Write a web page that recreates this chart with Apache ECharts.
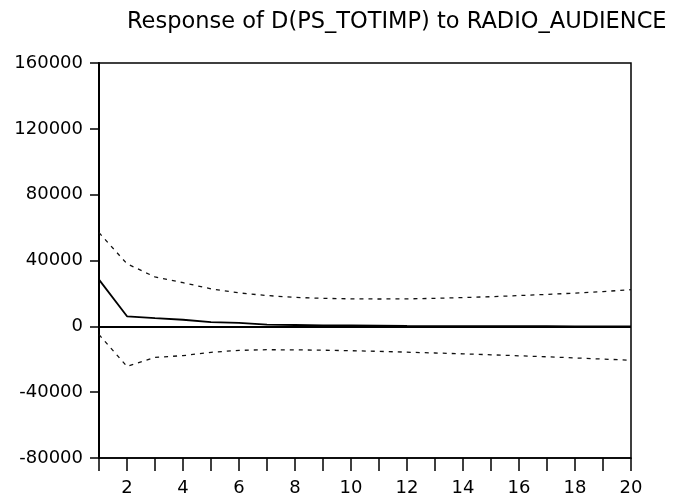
<!DOCTYPE html>
<html>
<head>
<meta charset="utf-8">
<script src="https://cdn.jsdelivr.net/npm/echarts@6/dist/echarts.min.js"></script>
<style>
  html, body { margin: 0; padding: 0; background: #fff; }
  #chart { width: 674px; height: 498px; }
</style>
</head>
<body>
<div id="chart"></div>
<script>
const periods = [1, 2, 3, 4, 5, 6, 7, 8, 9, 10, 11, 12, 13, 14, 15, 16, 17, 18, 19, 20]
// impulse response and +/- 2 s.e. bands
const response = [28400, 6100, 5000, 4000, 2500, 2100, 1000, 800, 600, 500, 400, 200, 150, 100, 80, 60, 40, 30, 20, 15]
const upper = [56900, 38000, 30000, 26500, 22800, 20300, 18700, 17600, 17000, 16700, 16600, 16700, 17000, 17500, 18000, 18700, 19400, 20200, 21100, 22300]
const lower = [-5000, -24400, -18900, -17800, -15800, -14600, -14200, -14300, -14500, -14800, -15200, -15700, -16200, -16700, -17300, -17900, -18500, -19200, -19900, -20600]
const yTicks = [-80000, -40000, 0, 40000, 80000, 120000, 160000]

const font = 'DejaVu Sans'
const pair = (arr) => periods.map((p, i) => [p, arr[i]])

const myChart = echarts.init(document.getElementById('chart'), null, { renderer: 'canvas' })

const option = {
  backgroundColor: '#fff',
  animation: false,
  title: {
    text: 'Response of D(PS_TOTIMP) to RADIO_AUDIENCE',
    left: 122,
    top: 6,
    textStyle: { fontFamily: font, fontSize: 22.5, fontWeight: 'normal', color: '#000' }
  },
  grid: {
    left: 99,
    right: 43,
    top: 63,
    bottom: 40,
    show: true,
    borderColor: '#000',
    borderWidth: 1.5,
    backgroundColor: 'transparent'
  },
  xAxis: {
    type: 'value',
    min: periods[0],
    max: periods[periods.length - 1],
    interval: 1,
    axisLine: { show: true, onZero: false, lineStyle: { color: '#000', width: 1.5 } },
    axisTick: { show: true, length: 13, lineStyle: { color: '#000', width: 1.5 } },
    axisLabel: {
      margin: 21,
      color: '#000',
      fontFamily: font,
      fontSize: 18,
      formatter: (v) => (v % 2 === 0 ? String(v) : '')
    },
    splitLine: { show: false }
  },
  yAxis: {
    type: 'value',
    min: yTicks[0],
    max: yTicks[yTicks.length - 1],
    interval: 40000,
    axisLine: { show: true, lineStyle: { color: '#000', width: 2 } },
    axisTick: { show: true, length: 9, lineStyle: { color: '#000', width: 1.5 } },
    axisLabel: {
      margin: 16,
      color: '#000',
      fontFamily: font,
      fontSize: 18,
      formatter: (v) => String(v)
    },
    splitLine: { show: false }
  },
  series: [
    {
      name: 'upper',
      type: 'line',
      data: pair(upper),
      symbol: 'none',
      silent: true,
      lineStyle: { color: '#111', width: 1.3, type: [4, 5] }
    },
    {
      name: 'lower',
      type: 'line',
      data: pair(lower),
      symbol: 'none',
      silent: true,
      lineStyle: { color: '#111', width: 1.3, type: [4, 5] }
    },
    {
      name: 'response',
      type: 'line',
      data: pair(response),
      symbol: 'none',
      silent: true,
      lineStyle: { color: '#000', width: 1.8 },
      markLine: {
        silent: true,
        symbol: 'none',
        label: { show: false },
        lineStyle: { color: '#000', width: 2, type: 'solid' },
        data: [{ yAxis: 0 }]
      }
    }
  ]
}

myChart.setOption(option)
</script>
</body>
</html>
